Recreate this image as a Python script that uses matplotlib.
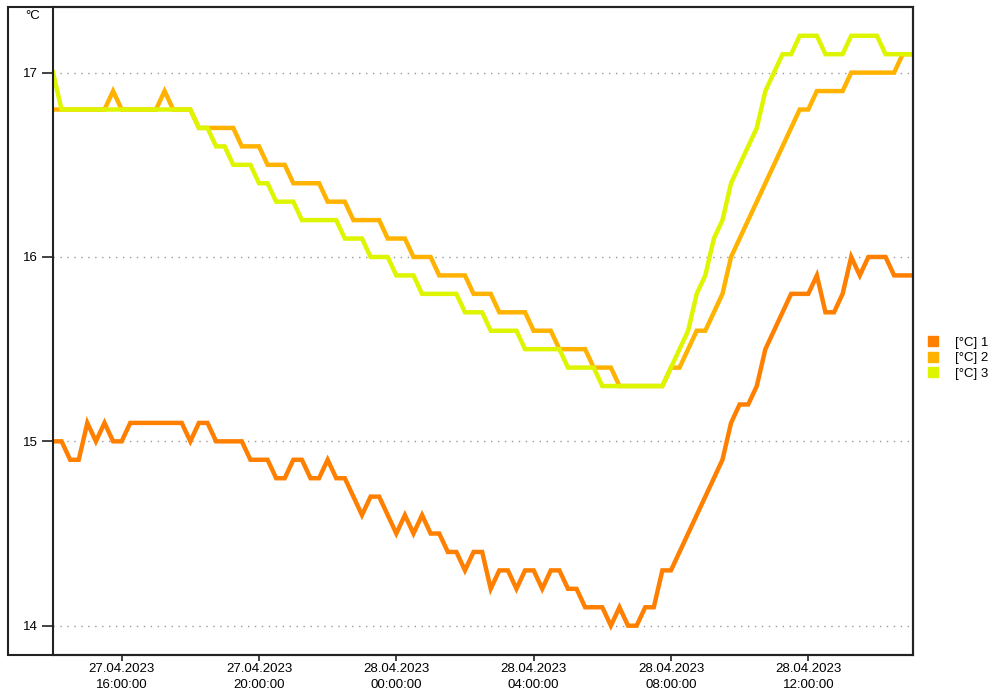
import matplotlib
matplotlib.use('Agg')
import matplotlib.pyplot as plt
import matplotlib.dates as mdates
from matplotlib.lines import Line2D
from matplotlib.patches import Rectangle
import pandas as pd

plt.rcParams['font.family'] = ['Liberation Sans', 'DejaVu Sans']

# measurements every 15 min, 27.04.2023 14:00 -> 28.04.2023 15:00
times = pd.date_range('2023-04-27 14:00', '2023-04-28 15:00', freq='15min')

temp1 = [15.0, 15.0, 14.9, 14.9, 15.1, 15.0, 15.1, 15.0, 15.0, 15.1,
         15.1, 15.1, 15.1, 15.1, 15.1, 15.1, 15.0, 15.1, 15.1, 15.0,
         15.0, 15.0, 15.0, 14.9, 14.9, 14.9, 14.8, 14.8, 14.9, 14.9,
         14.8, 14.8, 14.9, 14.8, 14.8, 14.7, 14.6, 14.7, 14.7, 14.6,
         14.5, 14.6, 14.5, 14.6, 14.5, 14.5, 14.4, 14.4, 14.3, 14.4,
         14.4, 14.2, 14.3, 14.3, 14.2, 14.3, 14.3, 14.2, 14.3, 14.3,
         14.2, 14.2, 14.1, 14.1, 14.1, 14.0, 14.1, 14.0, 14.0, 14.1,
         14.1, 14.3, 14.3, 14.4, 14.5, 14.6, 14.7, 14.8, 14.9, 15.1,
         15.2, 15.2, 15.3, 15.5, 15.6, 15.7, 15.8, 15.8, 15.8, 15.9,
         15.7, 15.7, 15.8, 16.0, 15.9, 16.0, 16.0, 16.0, 15.9, 15.9,
         15.9]

temp2 = [16.8, 16.8, 16.8, 16.8, 16.8, 16.8, 16.8, 16.9, 16.8, 16.8,
         16.8, 16.8, 16.8, 16.9, 16.8, 16.8, 16.8, 16.7, 16.7, 16.7,
         16.7, 16.7, 16.6, 16.6, 16.6, 16.5, 16.5, 16.5, 16.4, 16.4,
         16.4, 16.4, 16.3, 16.3, 16.3, 16.2, 16.2, 16.2, 16.2, 16.1,
         16.1, 16.1, 16.0, 16.0, 16.0, 15.9, 15.9, 15.9, 15.9, 15.8,
         15.8, 15.8, 15.7, 15.7, 15.7, 15.7, 15.6, 15.6, 15.6, 15.5,
         15.5, 15.5, 15.5, 15.4, 15.4, 15.4, 15.3, 15.3, 15.3, 15.3,
         15.3, 15.3, 15.4, 15.4, 15.5, 15.6, 15.6, 15.7, 15.8, 16.0,
         16.1, 16.2, 16.3, 16.4, 16.5, 16.6, 16.7, 16.8, 16.8, 16.9,
         16.9, 16.9, 16.9, 17.0, 17.0, 17.0, 17.0, 17.0, 17.0, 17.1,
         17.1]

temp3 = [17.0, 16.8, 16.8, 16.8, 16.8, 16.8, 16.8, 16.8, 16.8, 16.8,
         16.8, 16.8, 16.8, 16.8, 16.8, 16.8, 16.8, 16.7, 16.7, 16.6,
         16.6, 16.5, 16.5, 16.5, 16.4, 16.4, 16.3, 16.3, 16.3, 16.2,
         16.2, 16.2, 16.2, 16.2, 16.1, 16.1, 16.1, 16.0, 16.0, 16.0,
         15.9, 15.9, 15.9, 15.8, 15.8, 15.8, 15.8, 15.8, 15.7, 15.7,
         15.7, 15.6, 15.6, 15.6, 15.6, 15.5, 15.5, 15.5, 15.5, 15.5,
         15.4, 15.4, 15.4, 15.4, 15.3, 15.3, 15.3, 15.3, 15.3, 15.3,
         15.3, 15.3, 15.4, 15.5, 15.6, 15.8, 15.9, 16.1, 16.2, 16.4,
         16.5, 16.6, 16.7, 16.9, 17.0, 17.1, 17.1, 17.2, 17.2, 17.2,
         17.1, 17.1, 17.1, 17.2, 17.2, 17.2, 17.2, 17.1, 17.1, 17.1,
         17.1]

labels = ['[°C] 1', '[°C] 2', '[°C] 3']
colors = ['#ff8000', '#ffb300', '#def500']
y_ticks = [14, 15, 16, 17]
x_ticks = pd.date_range('2023-04-27 16:00', '2023-04-28 12:00', freq='4h')

W, H = 994, 693
fig = plt.figure(figsize=(W / 100, H / 100), dpi=100)
ax = fig.add_axes([53 / W, (H - 655) / H, 860 / W, 648 / H])

for vals, c in zip([temp1, temp2, temp3], colors):
    ax.plot(times, vals, color=c, lw=3.2, solid_joinstyle='miter')

ax.set_xlim(times[0], times[-1] + pd.Timedelta(minutes=3))
ax.set_ylim(13.841, 17.356)

ax.set_yticks(y_ticks)
ax.set_yticklabels([str(v) for v in y_ticks])
ax.yaxis.grid(True, linestyle=(0, (1, 4)), color='#999999', lw=1)
ax.set_xticks(x_ticks)
ax.xaxis.set_major_formatter(mdates.DateFormatter('%d.%m.%Y\n%H:%M:%S'))
ax.tick_params(axis='y', length=8, width=1.2, pad=3, labelsize=9.5, color='#222222')
ax.tick_params(axis='x', length=4, width=1.2, pad=2, labelsize=9.5, color='#222222')
for lab in ax.get_xticklabels():
    lab.set_linespacing(1.4)
for s in ax.spines.values():
    s.set_linewidth(1.5)
    s.set_color('#222222')

# outer frame around the y-axis area
fig.patches.append(Rectangle((8 / W, (H - 655) / H), (913 - 8) / W, 648 / H,
                             transform=fig.transFigure, fill=False,
                             lw=1.5, edgecolor='#222222'))
fig.text(25 / W, 1 - 16 / H, '°C', fontsize=9.5, va='center', ha='left')

handles = [Line2D([], [], marker='s', ls='none', color=c, markersize=7) for c in colors]
fig.legend(handles, labels, loc='center left', bbox_to_anchor=(918 / W, 1 - 358 / H),
           frameon=False, fontsize=9.5, labelspacing=0.25, handletextpad=1.1,
           handlelength=1.2, borderpad=0)

fig.savefig('out.png', dpi=100)
